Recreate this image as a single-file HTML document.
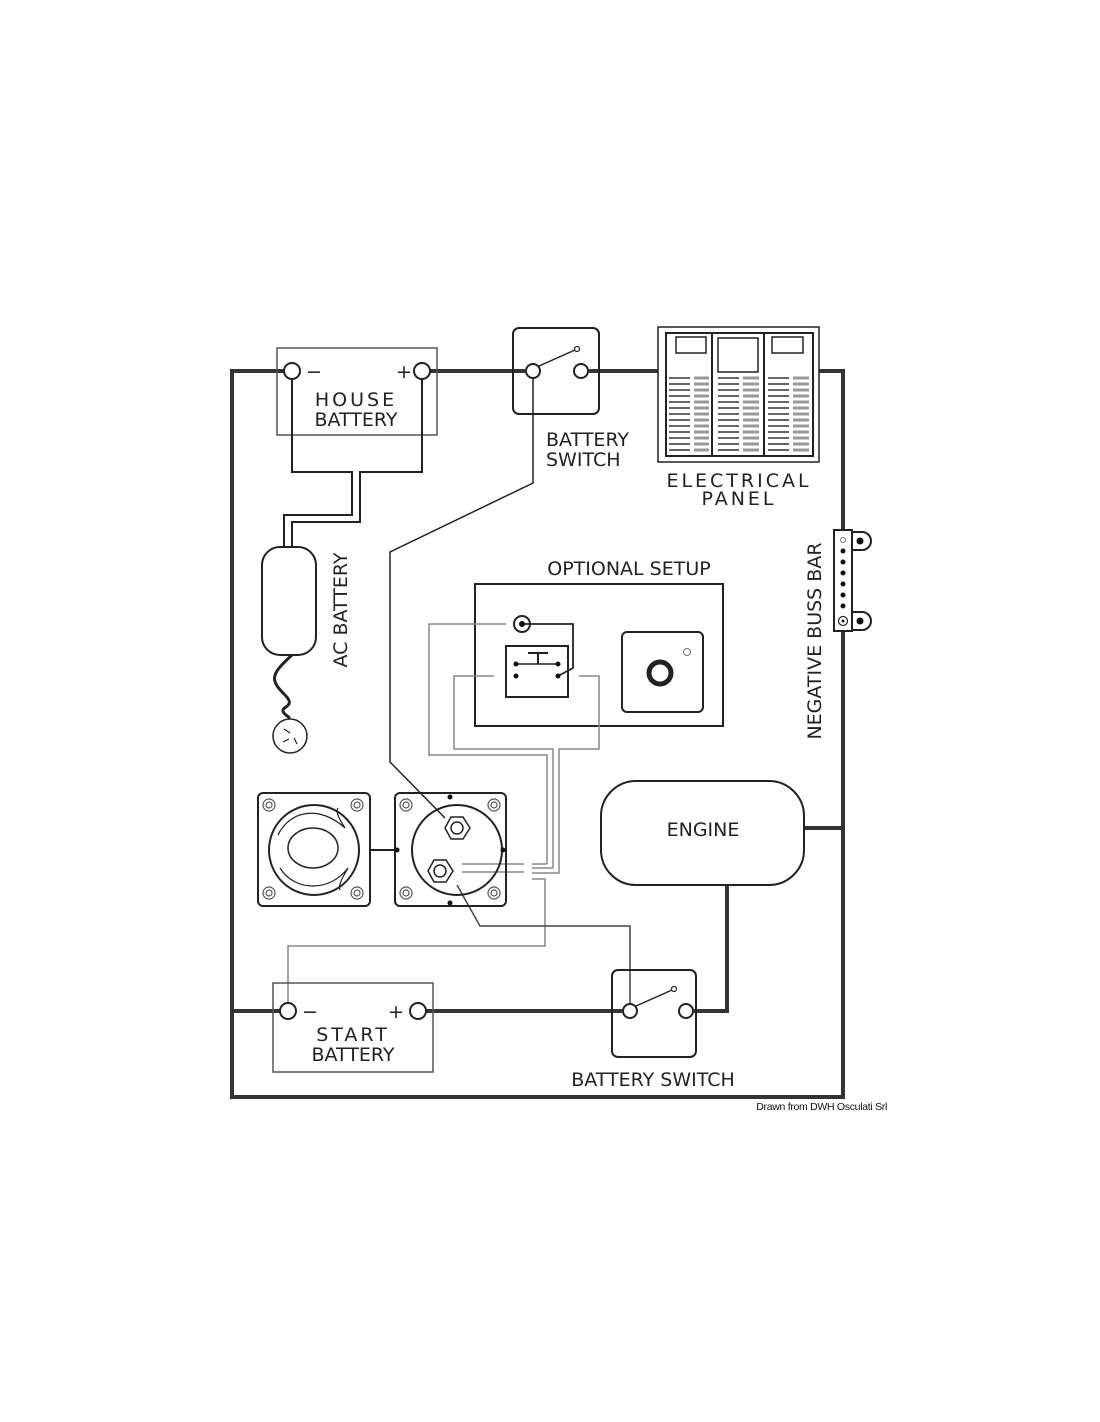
<!DOCTYPE html>
<html><head><style>html,body{margin:0;padding:0;background:#fff;width:1100px;height:1422px;overflow:hidden}</style></head>
<body>
<svg width="1100" height="1422" viewBox="0 0 1100 1422" xmlns="http://www.w3.org/2000/svg" font-family="'DejaVu Sans','Liberation Sans',sans-serif">
<g fill="none" stroke="#333" stroke-width="4">
 <!-- outer frame -->
 <polyline points="284,371 232,371 232,1097 843,1097 843,371 819,371"/>
 <line x1="430" y1="371" x2="525" y2="371"/>
 <line x1="589" y1="371" x2="658" y2="371"/>
 <line x1="232" y1="1011" x2="280" y2="1011"/>
 <line x1="426" y1="1011" x2="622" y2="1011"/>
 <polyline points="694,1011 727,1011 727,885"/>
 <line x1="804" y1="828" x2="843" y2="828"/>
</g>
<g fill="none" stroke="#222" stroke-width="2">
 <!-- house battery box -->
 <rect x="277" y="348" width="160" height="87" stroke="#555" stroke-width="1.5"/>
 <circle cx="292" cy="371" r="8" fill="#fff"/>
 <circle cx="422" cy="371" r="8" fill="#fff"/>
 <polyline points="292,379 292,472 352,472 352,515 284,515 284,548"/>
 <polyline points="422,379 422,472 360,472 360,522 292,522 292,548"/>
 <!-- AC battery -->
 <rect x="262" y="547" width="54" height="108" rx="18"/>
 <path d="M292,655 C270,675 270,680 285,695 C300,710 270,705 290,718" stroke-width="3"/>
 <circle cx="290" cy="736" r="17" stroke-width="1.5"/>
 <path d="M284,729 l6,4 M283,742 l6,-3 M294,738 l3,6" stroke-width="1.2"/>
 <!-- top switch -->
 <rect x="513" y="328" width="86" height="86" rx="6"/>
 <circle cx="533" cy="371" r="7" fill="#fff"/>
 <circle cx="581" cy="371" r="7" fill="#fff"/>
 <line x1="539" y1="366" x2="575" y2="350" stroke-width="1.5"/>
 <circle cx="577" cy="349" r="2.5" stroke-width="1.2"/>
 <polyline points="533,378 533,483 390,552 390,762 445,818" stroke-width="1.5"/>
 <!-- electrical panel -->
 <rect x="658" y="327" width="161" height="135" stroke-width="1.5"/>
 <rect x="666" y="333" width="147" height="123" stroke-width="2"/>
 <line x1="712" y1="333" x2="712" y2="456"/>
 <line x1="764" y1="333" x2="764" y2="456"/>
 <rect x="676" y="337" width="30" height="16" stroke-width="1.5"/>
 <rect x="718" y="338" width="40" height="34" stroke-width="1.5"/>
 <rect x="772" y="337" width="31" height="16" stroke-width="1.5"/>
</g>
<g stroke-width="1.5">
 <g stroke="#333">
  <path d="M669,378h21M669,384h21M669,390h21M669,396h21M669,402h21M669,408h21M669,414h21M669,420h21M669,426h21M669,432h21M669,438h21M669,444h21M669,450h21"/>
  <path d="M718,378h21M718,384h21M718,390h21M718,396h21M718,402h21M718,408h21M718,414h21M718,420h21M718,426h21M718,432h21M718,438h21M718,444h21M718,450h21"/>
  <path d="M768,378h21M768,384h21M768,390h21M768,396h21M768,402h21M768,408h21M768,414h21M768,420h21M768,426h21M768,432h21M768,438h21M768,444h21M768,450h21"/>
 </g>
 <g stroke="#999" stroke-width="3">
  <path d="M694,378h15M694,384h15M694,390h15M694,396h15M694,402h15M694,408h15M694,414h15M694,420h15M694,426h15M694,432h15M694,438h15M694,444h15M694,450h15"/>
  <path d="M743,378h16M743,384h16M743,390h16M743,396h16M743,402h16M743,408h16M743,414h16M743,420h16M743,426h16M743,432h16M743,438h16M743,444h16M743,450h16"/>
  <path d="M793,378h16M793,384h16M793,390h16M793,396h16M793,402h16M793,408h16M793,414h16M793,420h16M793,426h16M793,432h16M793,438h16M793,444h16M793,450h16"/>
 </g>
</g>
<!-- buss bar -->
<g stroke="#222" stroke-width="2" fill="#fff">
 <path d="M852,532 h10 a9,9 0 0 1 0,18 h-10z"/>
 <path d="M852,612 h10 a9,9 0 0 1 0,18 h-10z"/>
 <rect x="834" y="530" width="18" height="101"/>
</g>
<g fill="#111">
 <circle cx="860" cy="541" r="3.5"/><circle cx="860" cy="621" r="3.5"/>
 <circle cx="843" cy="551" r="2.5"/><circle cx="843" cy="562" r="2.5"/><circle cx="843" cy="573" r="2.5"/><circle cx="843" cy="584" r="2.5"/><circle cx="843" cy="595" r="2.5"/><circle cx="843" cy="606" r="2.5"/>
 <circle cx="843" cy="621" r="1.5"/>
</g>
<circle cx="843" cy="540" r="2.5" fill="none" stroke="#777" stroke-width="1"/>
<circle cx="843" cy="621" r="4.5" fill="none" stroke="#222" stroke-width="1.2"/>
<!-- optional setup -->
<g fill="none" stroke="#222" stroke-width="2">
 <rect x="475" y="584" width="248" height="142"/>
 <circle cx="522" cy="624" r="8"/>
 <polyline points="522,624 573,624 573,668 558,676" stroke-width="1.8"/>
 <rect x="506" y="646" width="62" height="51"/>
 <line x1="516" y1="664" x2="558" y2="664" stroke-width="1.5"/>
 <line x1="528" y1="653" x2="548" y2="653"/>
 <line x1="538" y1="653" x2="538" y2="664"/>
 <rect x="622" y="632" width="81" height="80" rx="5"/>
 <circle cx="660" cy="673" r="11" stroke-width="5"/>
 <circle cx="687" cy="652" r="3.5" stroke="#777" stroke-width="1"/>
</g>
<g fill="#111"><circle cx="522" cy="624" r="3"/><circle cx="516" cy="664" r="2.5"/><circle cx="558" cy="664" r="2.5"/><circle cx="516" cy="676" r="2.5"/><circle cx="558" cy="676" r="2.5"/></g>
<!-- gray wires -->
<g fill="none" stroke="#888" stroke-width="1.5">
 <polyline points="506,624 429,624 429,755 547,755 547,864"/>
 <polyline points="494,676 454,676 454,749 553,749 553,868"/>
 <polyline points="579,676 599,676 599,749 559,749 559,873 532,873"/>
 <line x1="532" y1="864" x2="547" y2="864"/>
 <line x1="532" y1="868" x2="553" y2="868"/>
 <polyline points="532,879 545,879 545,946 288,946 288,1003"/>
 <line x1="462" y1="864" x2="524" y2="864" stroke-width="1.5"/>
 <line x1="462" y1="872" x2="524" y2="872" stroke-width="1.5"/>
</g>
<polyline points="457,885 480,926 630,926 630,1003" fill="none" stroke="#444" stroke-width="1.5"/>
<!-- switch modules -->
<g fill="none" stroke="#222" stroke-width="2">
 <rect x="258" y="793" width="112" height="113" rx="5"/>
 <circle cx="314" cy="850" r="45"/>
 <ellipse cx="313" cy="848" rx="25" ry="20" stroke-width="1.5"/>
 <path d="M278,835 C290,810 320,805 345,828 C340,820 335,812 338,808 M280,868 C295,892 330,892 348,868 C342,878 338,886 340,890" stroke-width="1.2"/>
 <rect x="395" y="793" width="111" height="113" rx="5"/>
 <circle cx="457" cy="850" r="45"/>
 <polygon points="451,817 463,817 470,828 463,839 451,839 445,828" stroke-width="1.5"/>
 <circle cx="457" cy="828" r="6" stroke-width="1.5"/>
 <polygon points="434,860 446,860 453,871 446,882 434,882 428,871" stroke-width="1.5"/>
 <circle cx="440" cy="871" r="6" stroke-width="1.5"/>
 <line x1="370" y1="850" x2="395" y2="850"/>
</g>
<g fill="none" stroke="#555" stroke-width="1.2">
 <circle cx="269" cy="805" r="6"/><circle cx="269" cy="805" r="3"/>
 <circle cx="357" cy="805" r="6"/><circle cx="357" cy="805" r="3"/>
 <circle cx="269" cy="893" r="6"/><circle cx="269" cy="893" r="3"/>
 <circle cx="357" cy="893" r="6"/><circle cx="357" cy="893" r="3"/>
 <circle cx="406" cy="805" r="6"/><circle cx="406" cy="805" r="3"/>
 <circle cx="494" cy="805" r="6"/><circle cx="494" cy="805" r="3"/>
 <circle cx="406" cy="893" r="6"/><circle cx="406" cy="893" r="3"/>
 <circle cx="494" cy="893" r="6"/><circle cx="494" cy="893" r="3"/>
</g>
<g fill="#111"><circle cx="450" cy="797" r="2.5"/><circle cx="450" cy="903" r="2.5"/><circle cx="397" cy="850" r="2.5"/><circle cx="503" cy="850" r="2.5"/></g>
<!-- engine -->
<rect x="601" y="781" width="203" height="104" rx="35" fill="none" stroke="#222" stroke-width="2"/>
<!-- start battery -->
<g fill="none" stroke="#222" stroke-width="2">
 <rect x="273" y="983" width="160" height="89" stroke="#555" stroke-width="1.5"/>
 <circle cx="288" cy="1011" r="8" fill="#fff"/>
 <circle cx="418" cy="1011" r="8" fill="#fff"/>
 <rect x="612" y="970" width="84" height="87" rx="6"/>
 <circle cx="630" cy="1011" r="7" fill="#fff"/>
 <circle cx="686" cy="1011" r="7" fill="#fff"/>
 <line x1="636" y1="1006" x2="672" y2="990" stroke-width="1.5"/>
 <circle cx="674" cy="989" r="2.5" stroke-width="1.2"/>
</g>
<!-- text -->
<g fill="#222" font-size="19">
 <text x="306" y="378">−</text><text x="396" y="378">+</text>
 <text x="356" y="406" text-anchor="middle" letter-spacing="3">HOUSE</text>
 <text x="356" y="426" text-anchor="middle">BATTERY</text>
 <text x="546" y="446">BATTERY</text>
 <text x="546" y="466">SWITCH</text>
 <text x="739" y="487" text-anchor="middle" letter-spacing="3">ELECTRICAL</text>
 <text x="739" y="505" text-anchor="middle" letter-spacing="3">PANEL</text>
 <text x="629" y="575" text-anchor="middle">OPTIONAL SETUP</text>
 <text x="703" y="836" text-anchor="middle">ENGINE</text>
 <text transform="translate(347,610) rotate(-90)" text-anchor="middle">AC BATTERY</text>
 <text transform="translate(821,641) rotate(-90)" text-anchor="middle">NEGATIVE BUSS BAR</text>
 <text x="302" y="1018">−</text><text x="388" y="1018">+</text>
 <text x="353" y="1041" text-anchor="middle" letter-spacing="3">START</text>
 <text x="353" y="1061" text-anchor="middle">BATTERY</text>
 <text x="653" y="1086" text-anchor="middle">BATTERY SWITCH</text>
</g>
<text x="887" y="1110" text-anchor="end" font-family="'Liberation Sans',sans-serif" font-size="10.5" fill="#111" letter-spacing="-0.3">Drawn from DWH Osculati Srl</text>
</svg>
</body></html>
